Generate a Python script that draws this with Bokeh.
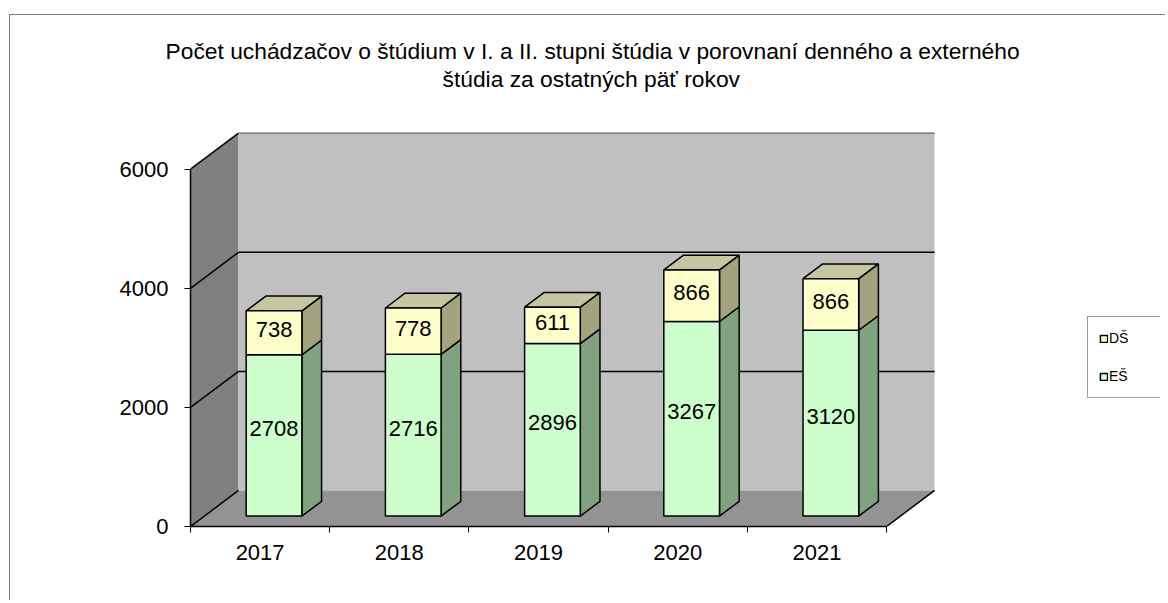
from bokeh.plotting import figure
from bokeh.models import FixedTicker, Legend, LegendItem, Title
from bokeh.embed import file_html
from bokeh.resources import INLINE
from bokeh.core.properties import value

# ---- data ----
years = ["2017", "2018", "2019", "2020", "2021"]
es_values = [2708, 2716, 2896, 3267, 3120]   # EŠ (bottom)
ds_values = [738, 778, 611, 866, 866]        # DŠ (top)
y_ticks = [0, 2000, 4000, 6000]
series_names = ["DŠ", "EŠ"]
title_lines = [
    "Počet uchádzačov o štúdium  v I. a II. stupni štúdia v porovnaní denného a externého",
    "štúdia za ostatných päť rokov",
]

# ---- 3D geometry (in data units) ----
n = len(years)
YMAX = y_ticks[-1]
DX = 0.345      # wall depth, category units
DY = 605        # wall depth, value units
F0, F1 = 0.29, 0.70   # bar front / back depth fraction
W = 0.40        # bar width
FONT = "Liberation Sans"

p = figure(width=1156, height=586,
           x_range=(0, 6.968), y_range=(0, YMAX + DY + 45),
           output_backend="svg", toolbar_location=None, title=None,
           min_border_left=180, min_border_right=6,
           min_border_top=115, min_border_bottom=75)
p.styles = {"margin": "14px 0px 0px 9px",
            "border-left": "1px solid #808080",
            "border-top": "1px solid #808080"}
p.outline_line_color = None
p.xgrid.visible = False
p.ygrid.visible = False
p.background_fill_color = "white"
p.border_fill_color = "white"

# walls
p.patch([0, DX, DX, 0], [0, DY, YMAX + DY, YMAX], fill_color="#808080", line_color=None)
p.quad(left=DX, right=n + DX, bottom=DY, top=YMAX + DY, fill_color="#C0C0C0", line_color=None)
p.patch([0, n, n + DX, DX], [0, 0, DY, DY], fill_color="#939393", line_color=None)
# gridlines
p.segment(x0=[0] * len(y_ticks), y0=y_ticks, x1=[DX] * len(y_ticks),
          y1=[v + DY for v in y_ticks], line_color="black", line_width=1.5)
mid = y_ticks[1:-1]
p.segment(x0=[DX] * len(mid), y0=[v + DY for v in mid], x1=[n + DX] * len(mid),
          y1=[v + DY for v in mid], line_color="black", line_width=1.5)
p.segment(x0=[DX], y0=[YMAX + DY], x1=[n + DX], y1=[YMAX + DY], line_color="#606060", line_width=1.2)
p.segment(x0=[n], y0=[0], x1=[n + DX], y1=[DY], line_color="black", line_width=1.5)

# bars
bottoms = {"EŠ": [0] * n, "DŠ": es_values}
tops = {"EŠ": es_values, "DŠ": [e + d for e, d in zip(es_values, ds_values)]}
colors = {"EŠ": ("#CCFFCC", "#80A280", "#A8D0A8"), "DŠ": ("#FFFFCC", "#A3A37F", "#C6C6A2")}

front_renderers = {}
for name in ["EŠ", "DŠ"]:
    lo, hi = bottoms[name], tops[name]
    xl0 = [i + 0.5 - W / 2 + DX * F0 for i in range(n)]
    xr0 = [i + 0.5 + W / 2 + DX * F0 for i in range(n)]
    xl1 = [i + 0.5 - W / 2 + DX * F1 for i in range(n)]
    xr1 = [i + 0.5 + W / 2 + DX * F1 for i in range(n)]
    front, side, topc = colors[name]
    p.patches(xs=[[xr0[i], xr1[i], xr1[i], xr0[i]] for i in range(n)],
              ys=[[lo[i] + DY * F0, lo[i] + DY * F1, hi[i] + DY * F1, hi[i] + DY * F0] for i in range(n)],
              fill_color=side, line_color="black", line_width=1.5)
    if name == "DŠ":
        p.patches(xs=[[xl0[i], xl1[i], xr1[i], xr0[i]] for i in range(n)],
                  ys=[[hi[i] + DY * F0, hi[i] + DY * F1, hi[i] + DY * F1, hi[i] + DY * F0] for i in range(n)],
                  fill_color=topc, line_color="black", line_width=1.5)
    r = p.quad(left=xl0, right=xr0, bottom=[v + DY * F0 for v in lo], top=[v + DY * F0 for v in hi],
               fill_color=front, line_color="black", line_width=1.5)
    front_renderers[name] = r

# value labels
cx = [i + 0.5 + DX * F0 for i in range(n)]
p.text(x=cx, y=[e / 2 + DY * F0 for e in es_values], text=[str(v) for v in es_values],
       text_align="center", text_baseline="middle", text_font=value(FONT),
       text_font_size="22px", text_color="black", y_offset=-7)
p.text(x=cx, y=[e + d / 2 + DY * F0 for e, d in zip(es_values, ds_values)], text=[str(v) for v in ds_values],
       text_align="center", text_baseline="middle", text_font=value(FONT),
       text_font_size="22px", text_color="black", y_offset=-3)

# axes
xa = p.xaxis[0]
xa.ticker = FixedTicker(ticks=[i + 0.5 for i in range(n)], minor_ticks=list(range(n + 1)))
xa.major_label_overrides = {i + 0.5: y for i, y in enumerate(years)}
xa.bounds = (0, n)
xa.major_tick_out = 0
xa.major_tick_in = 0
xa.minor_tick_out = 6
xa.minor_tick_in = 0
xa.minor_tick_line_color = "black"
xa.major_label_standoff = 12

ya = p.yaxis[0]
ya.ticker = FixedTicker(ticks=y_ticks)
ya.bounds = (0, YMAX)
ya.major_tick_out = 6
ya.major_tick_in = 0
ya.minor_tick_line_color = None
ya.major_label_standoff = 16

for ax in (xa, ya):
    ax.axis_line_color = "black"
    ax.axis_line_width = 1.5
    ax.major_tick_line_color = "black"
    ax.major_label_text_font = FONT
    ax.major_label_text_font_size = "22px"
    ax.major_label_text_color = "black"

# titles: spacer (innermost), then line 2, then line 1
p.add_layout(Title(text=" ", text_font_size="1px", standoff=36), "above")
t2 = Title(text=title_lines[1], align="left", offset=252, standoff=0,
           text_font=FONT, text_font_size="22.8px", text_font_style="normal", text_color="black")
p.add_layout(t2, "above")
t1 = Title(text=title_lines[0], align="left", offset=-25, standoff=0,
           text_font=FONT, text_font_size="22.8px", text_font_style="normal", text_color="black")
p.add_layout(t1, "above")

# legend
legend = Legend(items=[LegendItem(label=series_names[0], renderers=[front_renderers["DŠ"]]),
                       LegendItem(label=series_names[1], renderers=[front_renderers["EŠ"]])],
                location=(897, 128), orientation="vertical",
                glyph_width=9, glyph_height=9, label_height=20, label_width=44,
                label_standoff=1, spacing=18, padding=11, margin=0,
                label_text_font=FONT, label_text_font_size="14px", label_text_color="black",
                border_line_color="#404040", border_line_width=1,
                background_fill_color="white", background_fill_alpha=1)
p.add_layout(legend)

open("out.html", "w").write(file_html(p, INLINE))
